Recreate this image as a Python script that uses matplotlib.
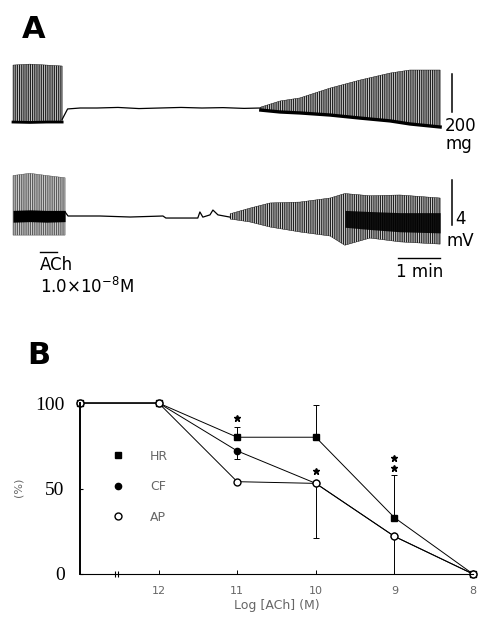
import matplotlib
matplotlib.use('Agg')
import numpy as np
import matplotlib.pyplot as plt

W, H = 482, 631

# ---- panel A: recordings (time in min) ----
# upper trace, contractile force (mg)
top_burst_t = [0.0, 0.4, 0.8, 1.17]
top_burst_hi = [226, 231, 226, 221]
top_burst_lo = [-74, -76, -74, -74]
top_flat_t = [1.17, 1.3, 1.6, 2.0, 2.5, 3.0, 3.5, 4.0, 4.5, 5.0, 5.5, 5.9]
top_flat_v = [-60, -5, 0, 0, 3, -3, 0, 3, 0, 2, -2, 0]
top_rise_t = [5.9, 6.36, 6.83, 7.55, 8.26, 8.98, 9.45, 10.17]
top_rise_hi = [5, 37, 53, 105, 147, 184, 200, 200]
top_rise_lo = [-11, -21, -26, -37, -53, -68, -84, -100]

# lower trace, action potential (mV)
low_burst_t = [0.0, 0.4, 0.8, 1.24]
low_burst_hi = [3.6, 3.8, 3.6, 3.4]
low_burst_lo = [-1.7, -1.7, -1.7, -1.7]
low_burst_core_hi = [0.5, 0.55, 0.5, 0.5]
low_burst_core_lo = [-0.55, -0.5, -0.55, -0.5]
low_flat_t = [1.24, 1.31, 2.07, 2.79, 3.57, 3.64, 4.40, 4.45, 4.52, 4.69, 4.76, 4.88, 5.17]
low_flat_v = [0.36, 0.0, 0.0, -0.09, 0.0, -0.18, -0.18, 0.36, -0.1, 0.1, 0.53, 0.1, -0.1]
low_rise_t = [5.17, 5.64, 6.12, 6.83, 7.55, 7.9, 8.5, 9.21, 10.17]
low_rise_hi = [0.2, 0.7, 1.16, 1.24, 1.6, 2.0, 1.8, 1.87, 1.6]
low_rise_lo = [-0.27, -0.53, -0.98, -1.42, -1.78, -2.6, -1.96, -2.3, -2.5]
low_core_t = [7.9, 8.5, 9.21, 10.17]
low_core_hi = [0.5, 0.4, 0.3, 0.3]
low_core_lo = [-1.0, -1.2, -1.4, -1.5]

ach_on, ach_off = 0.64, 1.05
scale_mg = 200
scale_mv = 4

# ---- panel B: concentration-response (13 = control) ----
conc = [13, 12, 11, 10, 9, 8]
hr = [100, 100, 80, 80, 33, 0]
cf = [100, 100, 72, 53, 22, 0]
ap = [100, 100, 54, 53, 22, 0]
hr_err_up = [0, 0, 6, 19, 25, 0]
cf_err_dn = [0, 0, 5, 0, 0, 0]
ap_err_dn = [0, 0, 0, 32, 22, 0]
star_x = [11, 10, 9, 9]
star_y = [91, 60, 68, 62]
xtick_vals = [12, 11, 10, 9, 8]
ytick_vals = [0, 50, 100]

plt.rcParams['hatch.linewidth'] = 0.6
fig = plt.figure(figsize=(W / 100, H / 100), dpi=100)

# --- upper trace
ax_t = fig.add_axes([0, 1 - 140 / H, 1, 90 / H])
ax_t.set_xlim(-13 / 42, 469 / 42)
ax_t.set_ylim(-168.4, 305.3)
ax_t.axis('off')
ax_t.fill_between(top_burst_t, top_burst_lo, top_burst_hi, facecolor='#c4c4c4',
                  edgecolor='black', hatch='|' * 9, lw=0.3)
ax_t.plot(top_burst_t, top_burst_lo, color='k', lw=2)
ax_t.plot(top_flat_t, top_flat_v, color='k', lw=0.9)
ax_t.fill_between(top_rise_t, top_rise_lo, top_rise_hi, facecolor='#c8c8c8',
                  edgecolor='black', hatch='|' * 9, lw=0.3)
ax_t.plot(top_rise_t, top_rise_lo, color='k', lw=2.4)
ax_t.plot([10.45, 10.45], [-20, -20 + scale_mg], color='k', lw=1.1)
ax_t.text(10.29, -95, str(scale_mg), fontsize=12, va='center', ha='left')
ax_t.text(10.29, -192, 'mg', fontsize=12, va='center', ha='left')

# --- lower trace
ax_l = fig.add_axes([0, 1 - 300 / H, 1, 150 / H])
ax_l.set_xlim(-13 / 42, 469 / 42)
ax_l.set_ylim(-7.47, 5.87)
ax_l.axis('off')
ax_l.fill_between(low_burst_t, low_burst_lo, low_burst_hi, facecolor='#d0d0d0',
                  edgecolor='#444444', hatch='|' * 9, lw=0.3)
ax_l.fill_between(low_burst_t, low_burst_core_lo, low_burst_core_hi, color='k', lw=0)
ax_l.plot(low_flat_t, low_flat_v, color='k', lw=0.9)
ax_l.fill_between(low_rise_t, low_rise_lo, low_rise_hi, facecolor='#cfcfcf',
                  edgecolor='black', hatch='|' * 9, lw=0.3)
ax_l.fill_between(low_core_t, low_core_lo, low_core_hi, color='k', alpha=0.9, lw=0)
ax_l.plot([10.45, 10.45], [-0.8, -0.8 + scale_mv], color='k', lw=1.1)
ax_l.text(10.52, -0.3, str(scale_mv), fontsize=12, va='center', ha='left')
ax_l.text(10.33, -2.25, 'mV', fontsize=12, va='center', ha='left')
ax_l.plot([ach_on, ach_off], [-3.2, -3.2], color='k', lw=1)
ax_l.text(0.64, -4.4, 'ACh', fontsize=12, va='center', ha='left')
ax_l.text(0.64, -6.3, '1.0×10$^{-8}$M', fontsize=12, va='center', ha='left')
ax_l.plot([9.17, 10.17], [-3.73, -3.73], color='k', lw=1)
ax_l.text(9.67, -5.0, '1 min', fontsize=12, va='center', ha='center')

fig.text(22 / W, 1 - 29 / H, 'A', fontsize=22, fontweight='bold', va='center', ha='left')
fig.text(27 / W, 1 - 356 / H, 'B', fontsize=22, fontweight='bold', va='center', ha='left')

# --- panel B
grey = '#666666'
ax_b = fig.add_axes([70 / W, 1 - 582 / H, 410 / W, 187 / H])
ax_b.set_xlim(13.127, 7.911)
ax_b.set_ylim(-4.68, 104.7)
for s in ['top', 'right']:
    ax_b.spines[s].set_visible(False)
ax_b.spines['left'].set_bounds(0, 100)
ax_b.spines['left'].set_position(('data', 13))
ax_b.spines['left'].set_linewidth(1.4)
ax_b.spines['bottom'].set_bounds(8, 13)
ax_b.spines['bottom'].set_position(('data', 0))
ax_b.spines['bottom'].set_linewidth(0.8)
ax_b.set_yticks(ytick_vals)
ax_b.set_yticklabels([str(v) for v in ytick_vals], family='Liberation Serif', fontsize=14)
ax_b.tick_params(axis='y', direction='in', length=2, pad=11)
ax_b.set_xticks(xtick_vals)
ax_b.set_xticklabels([str(v) for v in xtick_vals], fontsize=8, color=grey)
ax_b.tick_params(axis='x', direction='in', length=3, width=0.7, pad=9)

ax_b.plot(conc, hr, color='k', lw=0.7)
ax_b.plot(conc, cf, color='k', lw=0.7)
ax_b.plot(conc, ap, color='k', lw=0.7)

c = np.array(conc)
for vals, lo, up in [(hr, None, hr_err_up), (cf, cf_err_dn, None), (ap, ap_err_dn, None)]:
    e = np.array(lo if lo is not None else up)
    m = e > 0
    z = np.zeros(m.sum())
    yerr = [e[m], z] if lo is not None else [z, e[m]]
    ax_b.errorbar(c[m], np.array(vals)[m], yerr=yerr, fmt='none', ecolor='k',
                  elinewidth=0.7, capsize=2.5, capthick=0.7)

ax_b.plot(conc, hr, ls='none', marker='s', ms=4.5, color='k', label='HR')
ax_b.plot(conc, cf, ls='none', marker='o', ms=4.5, color='k', label='CF')
ax_b.plot(conc, ap, ls='none', marker='o', ms=5, mfc='white', mec='k', mew=1, label='AP')
ax_b.plot(star_x, star_y, ls='none', marker='*', ms=5, color='k')
ax_b.plot([12.56, 12.51], [0, 0], ls='none', marker='|', ms=5, mew=0.8, color='k')

leg = ax_b.legend(loc='upper left', bbox_to_anchor=(0.1018, 0.7075), frameon=False,
                  fontsize=9, handlelength=1.0, handletextpad=2.06, labelspacing=1.4,
                  borderpad=0, borderaxespad=0, labelcolor=grey)

fig.text(19 / W, 1 - 487 / H, '(%)', rotation=90, fontsize=8, color=grey, va='center', ha='center')
fig.text(277 / W, 1 - 605 / H, 'Log [ACh] (M)', fontsize=9, color=grey, va='center', ha='center')

fig.savefig('out.png', dpi=100)
